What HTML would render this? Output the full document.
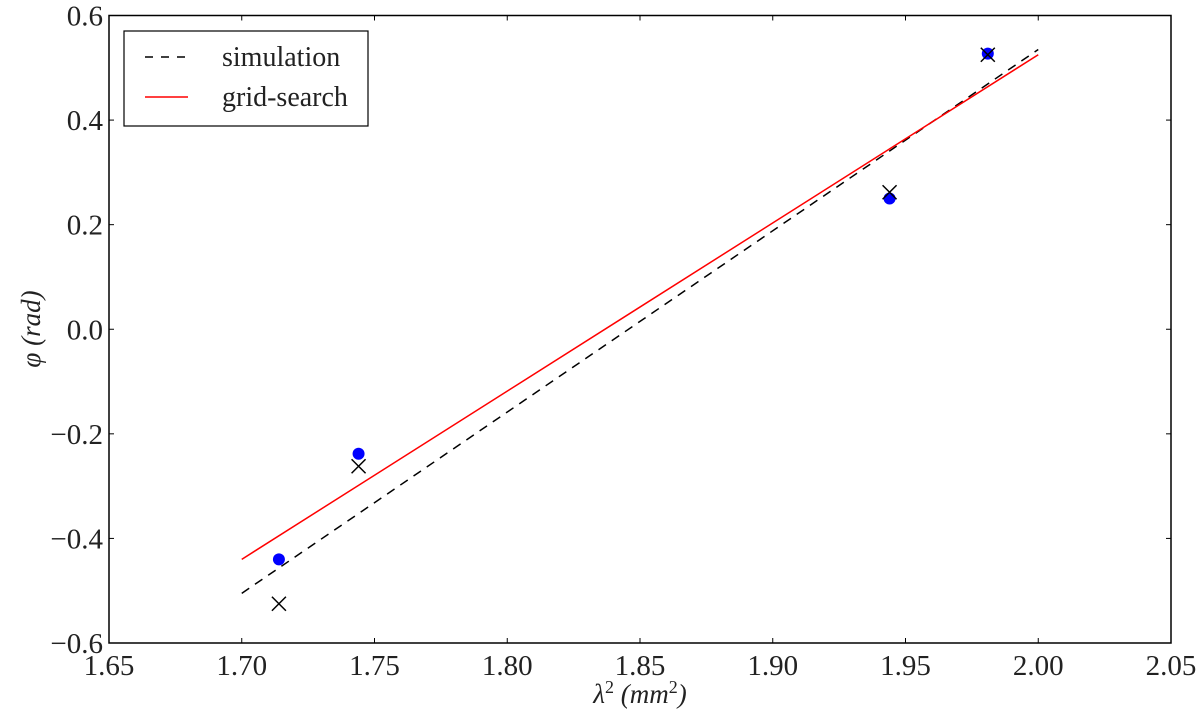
<!DOCTYPE html>
<html><head><meta charset="utf-8"><style>
body{margin:0;background:#fff}
svg text{font-family:"Liberation Serif",serif;fill:#222}
</style></head><body>
<svg id="chart" width="1200" height="713"></svg>
<script>
const xTicks=[1.65,1.70,1.75,1.80,1.85,1.90,1.95,2.00,2.05];
const yTicks=[-0.6,-0.4,-0.2,0.0,0.2,0.4,0.6];
const simX=[1.70,2.00];
const simY=[-0.505,0.535];
const gridX=[1.70,2.00];
const gridY=[-0.44,0.525];
const crossX=[1.714,1.744,1.944,1.981];
const crossY=[-0.525,-0.262,0.262,0.525];
const dotX=[1.714,1.744,1.944,1.981];
const dotY=[-0.44,-0.238,0.25,0.527];

const L=109,R=1171,T=15.5,B=643;
const sx=v=>L+(v-1.65)/0.4*(R-L);
const sy=v=>B-(v+0.6)/1.2*(B-T);
const svg=document.getElementById('chart');
const NS='http://www.w3.org/2000/svg';
function mk(tag,attrs,parent){const e=document.createElementNS(NS,tag);for(const k in attrs)e.setAttribute(k,attrs[k]);(parent||svg).appendChild(e);return e;}

xTicks.forEach(t=>{
  const x=sx(t);
  const g=mk('g',{});
  
  
  mk('line',{x1:x,x2:x,y1:B,y2:B-5,stroke:'#000','stroke-width':1},g);
  mk('line',{x1:x,x2:x,y1:T,y2:T+5,stroke:'#000','stroke-width':1},g);
  const tx=mk('text',{x:x,y:B+32,'text-anchor':'middle','font-size':29},g);
  tx.textContent=t.toFixed(2);
});
yTicks.forEach(t=>{
  const y=sy(t);
  const g=mk('g',{});
  
  
  mk('line',{x1:L,x2:L+5,y1:y,y2:y,stroke:'#000','stroke-width':1},g);
  mk('line',{x1:R,x2:R-5,y1:y,y2:y,stroke:'#000','stroke-width':1},g);
  const tx=mk('text',{x:L-6,y:y+10,'text-anchor':'end','font-size':29},g);
  tx.textContent=(t<0?'\u2212':'')+Math.abs(t).toFixed(1);
});

const sim=mk('line',{x1:sx(simX[0]),y1:sy(simY[0]),x2:sx(simX[1]),y2:sy(simY[1]),stroke:'#000','stroke-width':1.5,'stroke-dasharray':'9,7'});


const gs=mk('line',{x1:sx(gridX[0]),y1:sy(gridY[0]),x2:sx(gridX[1]),y2:sy(gridY[1]),stroke:'#f00','stroke-width':1.5});



dotX.forEach((v,i)=>{
  const c=mk('circle',{cx:sx(v),cy:sy(dotY[i]),r:6,fill:'#00f'});
  
  
});
crossX.forEach((v,i)=>{
  const x=sx(v),y=sy(crossY[i]);
  const p=mk('path',{d:`M${x-7} ${y-7}L${x+7} ${y+7}M${x-7} ${y+7}L${x+7} ${y-7}`,stroke:'#000','stroke-width':1.5,fill:'none'});
  
  
});

const frame=mk('rect',{x:L,y:T,width:R-L,height:B-T,fill:'none',stroke:'#000','stroke-width':1.5});



const lg=mk('g',{});


mk('rect',{x:124,y:31,width:244,height:95,fill:'#fff',stroke:'#000','stroke-width':1.2},lg);
mk('line',{x1:145,x2:188,y1:57,y2:57,stroke:'#000','stroke-width':1.5,'stroke-dasharray':'8,8'},lg);
mk('line',{x1:145,x2:188,y1:97,y2:97,stroke:'#f00','stroke-width':1.5},lg);
const t1=mk('text',{x:222,y:66,'font-size':28},lg);t1.textContent='simulation';
const t2=mk('text',{x:222,y:106,'font-size':28},lg);t2.textContent='grid-search';

const xl=mk('text',{x:640,y:703,'text-anchor':'middle','font-size':27,'font-style':'italic'});


xl.innerHTML='λ<tspan dy="-10" font-size="18" font-style="normal">2</tspan><tspan dy="10"> (mm</tspan><tspan dy="-10" font-size="18" font-style="normal">2</tspan><tspan dy="10">)</tspan>';
const yl=mk('text',{x:0,y:0,'text-anchor':'middle','font-size':27,'font-style':'italic',transform:'translate(40,329) rotate(-90)'});


yl.textContent='φ (rad)';
</script>
</body></html>
